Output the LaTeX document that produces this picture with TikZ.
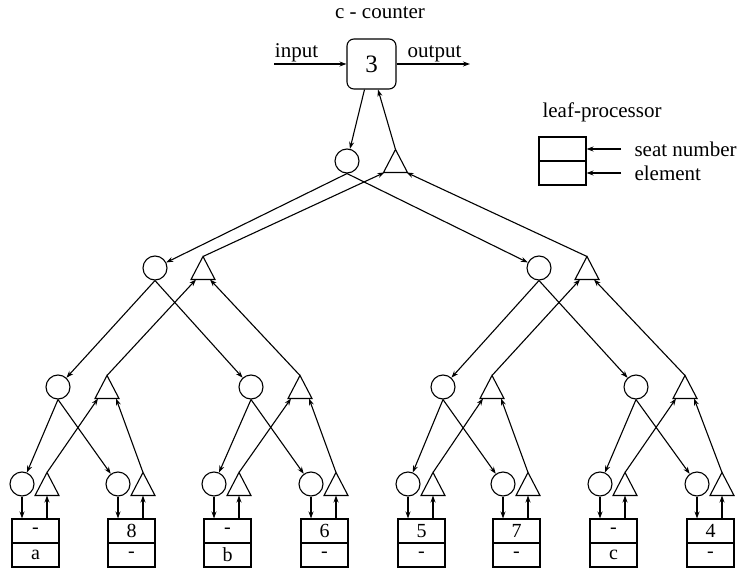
\documentclass[tikz,border=0pt]{standalone}
\usepackage{fontspec}
\setmainfont{Liberation Serif}
\usetikzlibrary{arrows.meta}

% triangle "up" processor: name, centre x, centre y, arrival offset on the base
\newcommand{\upnode}[4]{%
  \coordinate (#1-a) at (#2,#3-11.5);
  \coordinate (#1-l) at (#2-12,#3+11.5);
  \coordinate (#1-r) at (#2+12,#3+11.5);
  \coordinate (#1-b) at (#2,#3+11.5);
  \coordinate (#1-il) at (#2-#4,#3+11.5);
  \coordinate (#1-ir) at (#2+#4,#3+11.5);
  \draw[line join=miter] (#1-a) -- (#1-l) -- (#1-r) -- cycle;
}

\begin{document}
\begin{tikzpicture}[x=1pt,y=-1pt,
  line width=1.1pt,
  arr/.style={-{Stealth[length=7pt,width=5pt]}},
  circ/.style={draw,circle,minimum size=24pt,inner sep=0pt},
  cell/.style={draw,minimum width=47pt,minimum height=24pt,inner sep=0pt,
    font=\fontsize{20}{20}\selectfont},
  lbl/.style={font=\fontsize{21}{21}\selectfont,inner sep=0pt},
]
\useasboundingbox (0,0) rectangle (743,569);

% counter
\node[draw,rounded corners=7pt,minimum width=49pt,minimum height=50pt,
  inner sep=0pt,font=\fontsize{25}{25}\selectfont] (cnt) at (371.5,64) {3};
\node[lbl,anchor=base] (cntl) at (380,19) {c - counter};
\coordinate (inp) at (274,64);
\coordinate (outp) at (470,64);
\draw[arr] (inp) -- (cnt.west);
\draw[arr] (cnt.east) -- (outp);
\node[lbl,anchor=base] (inl) at (296.5,58) {input};
\node[lbl,anchor=base] (outl) at (434.5,58) {output};

% legend
\node[cell] (lgt) at (562.5,149) {};
\node[cell] (lgb) at (562.5,173) {};
\node[lbl,anchor=base west] (lgl) at (542,118) {leaf-processor};
\node[lbl,anchor=west] (snl) at (634,149) {seat number};
\node[lbl,anchor=west] (ell) at (634,173) {element};
\coordinate (sn) at (621,149);
\coordinate (el) at (621,173);
\draw[arr] (sn) -- (lgt.east);
\draw[arr] (el) -- (lgb.east);

% root
\node[circ] (c0) at (347,161) {};
\upnode{t0}{395.5}{161}{11}
\draw[arr] ([xshift=-7pt]cnt.south) -- (c0);
\draw[arr] (t0-a) -- ([xshift=6.5pt]cnt.south);

% level 1
\node[circ] (a1) at (155,268) {};
\node[circ] (a2) at (539,268) {};
\upnode{s1}{203}{268}{7}
\upnode{s2}{587}{268}{7}

% level 2
\node[circ] (b1) at (58,387) {};
\node[circ] (b2) at (251,387) {};
\node[circ] (b3) at (443,387) {};
\node[circ] (b4) at (636,387) {};
\upnode{u1}{107}{387}{9}
\upnode{u2}{300}{387}{9}
\upnode{u3}{492}{387}{9}
\upnode{u4}{685}{387}{9}

% leaves
\foreach \i/\x/\t/\b in {1/22/-/a, 2/118/8/-, 3/214/-/b, 4/311/6/-,
                         5/408/5/-, 6/503/7/-, 7/600/-/c, 8/697/4/-} {
  \node[circ] (lc\i) at (\x,484) {};
  \upnode{lt\i}{\x+25}{484}{0}
  \node[cell] (lbt\i) at (\x+13.5,531) {\t};
  \node[cell] (lbb\i) at (\x+13.5,555) {\b};
  \draw[arr] (lc\i.south) -- (lc\i.south |- lbt\i.north);
  \draw[arr] (lt\i-b |- lbt\i.north) -- (lt\i-b);
}

% downward paths (circles)
\draw[arr] (c0.south) -- (a1);
\draw[arr] (c0.south) -- (a2);
\draw[arr] (a1.south) -- (b1);
\draw[arr] (a1.south) -- (b2);
\draw[arr] (a2.south) -- (b3);
\draw[arr] (a2.south) -- (b4);
\draw[arr] (b1.south) -- (lc1);
\draw[arr] (b1.south) -- (lc2);
\draw[arr] (b2.south) -- (lc3);
\draw[arr] (b2.south) -- (lc4);
\draw[arr] (b3.south) -- (lc5);
\draw[arr] (b3.south) -- (lc6);
\draw[arr] (b4.south) -- (lc7);
\draw[arr] (b4.south) -- (lc8);

% upward paths (triangles)
\draw[arr] (s1-a) -- (t0-il);
\draw[arr] (s2-a) -- (t0-ir);
\draw[arr] (u1-a) -- (s1-il);
\draw[arr] (u2-a) -- (s1-ir);
\draw[arr] (u3-a) -- (s2-il);
\draw[arr] (u4-a) -- (s2-ir);
\draw[arr] (lt1-a) -- (u1-il);
\draw[arr] (lt2-a) -- (u1-ir);
\draw[arr] (lt3-a) -- (u2-il);
\draw[arr] (lt4-a) -- (u2-ir);
\draw[arr] (lt5-a) -- (u3-il);
\draw[arr] (lt6-a) -- (u3-ir);
\draw[arr] (lt7-a) -- (u4-il);
\draw[arr] (lt8-a) -- (u4-ir);
\end{tikzpicture}
\end{document}
